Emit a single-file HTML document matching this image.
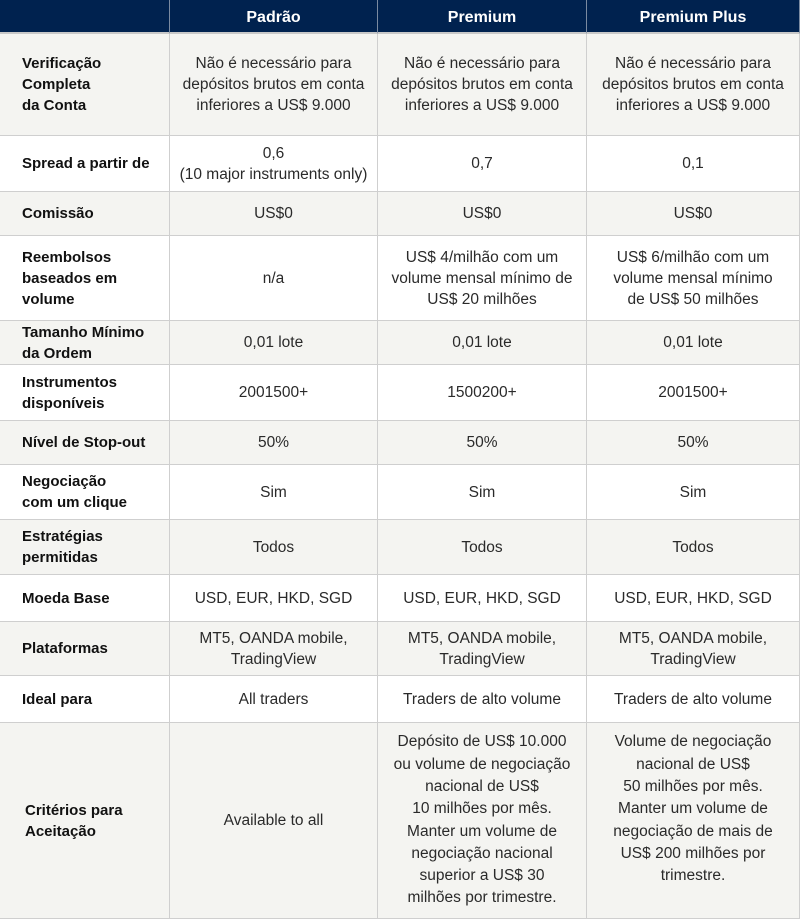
<!DOCTYPE html>
<html><head><meta charset="utf-8"><style>
*{margin:0;padding:0;box-sizing:border-box}
body{width:800px;height:919px;background:#fff;font-family:"Liberation Sans",sans-serif;position:relative;overflow:hidden}
.c{position:absolute;display:flex;align-items:center;justify-content:center;text-align:center;font-size:15.5px;line-height:21px;color:#2a2a2a;border-right:1px solid #cfcfcf;border-bottom:1px solid #cfcfcf;padding:0 4px}
.l{justify-content:flex-start;text-align:left;font-weight:bold;font-size:15px;color:#111;padding-left:22px}
.h{background:#00224f;color:#fff;font-weight:bold;font-size:16px;border-right:1px solid #7a8aa0;border-bottom:2px solid #c8c8c8;padding-top:2px}
.g{background:#f4f4f1}
</style></head><body>
<div id="t"></div>
<script>
const cols=[0,170,378,587,800];
const rows=[0,34,136,192,236,321,365,421,465,520,575,622,676,723,919];
const data=[
["","Padrão","Premium","Premium Plus"],
["Verificação<br>Completa<br>da Conta","Não é necessário para<br>depósitos brutos em conta<br>inferiores a US$ 9.000","Não é necessário para<br>depósitos brutos em conta<br>inferiores a US$ 9.000","Não é necessário para<br>depósitos brutos em conta<br>inferiores a US$ 9.000"],
["Spread a partir de","0,6<br>(10 major instruments only)","0,7","0,1"],
["Comissão","US$0","US$0","US$0"],
["Reembolsos<br>baseados em<br>volume","n/a","US$ 4/milhão com um<br>volume mensal mínimo de<br>US$ 20 milhões","US$ 6/milhão com um<br>volume mensal mínimo<br>de US$ 50 milhões"],
["Tamanho Mínimo<br>da Ordem","0,01 lote","0,01 lote","0,01 lote"],
["Instrumentos<br>disponíveis","2001500+","1500200+","2001500+"],
["Nível de Stop-out","50%","50%","50%"],
["Negociação<br>com um clique","Sim","Sim","Sim"],
["Estratégias<br>permitidas","Todos","Todos","Todos"],
["Moeda Base","USD, EUR, HKD, SGD","USD, EUR, HKD, SGD","USD, EUR, HKD, SGD"],
["Plataformas","MT5, OANDA mobile,<br>TradingView","MT5, OANDA mobile,<br>TradingView","MT5, OANDA mobile,<br>TradingView"],
["Ideal para","All traders","Traders de alto volume","Traders de alto volume"],
["Critérios para<br>Aceitação","Available to all","Depósito de US$ 10.000<br>ou volume de negociação<br>nacional de US$<br>10 milhões por mês.<br>Manter um volume de<br>negociação nacional<br>superior a US$ 30<br>milhões por trimestre.","Volume de negociação<br>nacional de US$<br>50 milhões por mês.<br>Manter um volume de<br>negociação de mais de<br>US$ 200 milhões por<br>trimestre.<br>&nbsp;"]
];
let h="";
data.forEach((r,i)=>{r.forEach((txt,j)=>{
 let cls="c"+(i==0?" h":(i%2==1?" g":""))+(j==0&&i>0?" l":"");
 let pl=(i==13&&j==0)?"padding-left:25px;":"";
 if(i==13&&j>1)pl+="line-height:22.3px;";
 h+=`<div class="${cls}" style="${pl}left:${cols[j]}px;top:${rows[i]}px;width:${cols[j+1]-cols[j]}px;height:${rows[i+1]-rows[i]}px">${txt}</div>`;
});});
document.getElementById("t").innerHTML=h;
</script>
</body></html>
